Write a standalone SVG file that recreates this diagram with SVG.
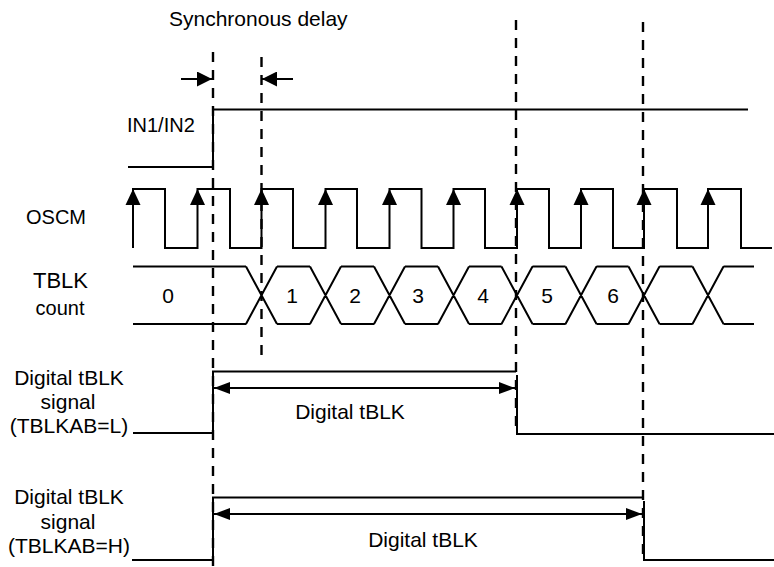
<svg xmlns="http://www.w3.org/2000/svg" xmlns:xlink="http://www.w3.org/1999/xlink" width="774" height="567" viewBox="0 0 774 567">
<style>
  text { font-family: "Liberation Sans", Arial, sans-serif; fill: #000; }
  .lbl { font-size: 20px; }
  .big { font-size: 21px; }
  .mid { text-anchor: middle; }
  .w { fill: none; stroke: #000; stroke-width: 2; }
  .dash { fill: none; stroke: #000; stroke-width: 2.4; stroke-dasharray: 10 8; }
  .arr { fill: none; stroke: #000; stroke-width: 2; marker-start: url(#ah); marker-end: url(#ah); }
</style>
<defs>
  <marker id="ah" viewBox="0 0 16 12" refX="16" refY="6" markerWidth="16" markerHeight="12" markerUnits="userSpaceOnUse" orient="auto-start-reverse">
    <path d="M0,0 L16,6 L0,12 Z" fill="#000"/>
  </marker>
  <marker id="ah2" viewBox="0 0 15 15" refX="15" refY="7.5" markerWidth="15" markerHeight="15" markerUnits="userSpaceOnUse" orient="auto">
    <path d="M0,0 L15,7.5 L0,15 Z" fill="#000"/>
  </marker>
  <path id="clk" d="M0,189 L-7.5,205 L7.5,205 Z" fill="#000"/>
</defs>
<rect width="774" height="567" fill="#fff"/>

<g id="labels">
  <text class="big" x="169" y="26">Synchronous delay</text>
  <text class="lbl" x="127" y="132">IN1/IN2</text>
  <text class="lbl" x="56" y="224" text-anchor="middle">OSCM</text>
  <text x="60.5" y="288" text-anchor="middle" font-size="22">TBLK</text>
  <text class="lbl" x="60" y="315" text-anchor="middle">count</text>
  <text class="big mid" x="69" y="385">Digital tBLK</text>
  <text class="big mid" x="68" y="409">signal</text>
  <text class="big mid" x="69" y="433">(TBLKAB=L)</text>
  <text class="big mid" x="69" y="504">Digital tBLK</text>
  <text class="big mid" x="68" y="529">signal</text>
  <text class="big mid" x="69" y="553">(TBLKAB=H)</text>
</g>

<g id="in-signal">
  <path class="w" d="M128,167 H213 V109.5 H748"/>
</g>

<g id="oscm">
  <path class="w" d="M133,248 V189 H165 V248 H197.5 V189 H230 V248 H261.5 V189 H293 V248 H325.5 V189 H357 V248 H389.5 V189 H421.5 V248 H453.5 V189 H485 V248 H517 V189 H549 V248 H581 V189 H613 V248 H644 V189 H677 V248 H708 V189 H741 V248 H772"/>
  <use xlink:href="#clk" href="#clk" x="133"/>
  <use xlink:href="#clk" href="#clk" x="197.5"/>
  <use xlink:href="#clk" href="#clk" x="261.5"/>
  <use xlink:href="#clk" href="#clk" x="325.5"/>
  <use xlink:href="#clk" href="#clk" x="389.5"/>
  <use xlink:href="#clk" href="#clk" x="453.5"/>
  <use xlink:href="#clk" href="#clk" x="517"/>
  <use xlink:href="#clk" href="#clk" x="581"/>
  <use xlink:href="#clk" href="#clk" x="644"/>
  <use xlink:href="#clk" href="#clk" x="708"/>
</g>

<g id="tblk-count">
  <path class="w" d="M133,266.5 H246 M277,266.5 H310 M341,266.5 H374 M405,266.5 H438 M469,266.5 H501.5 M532.5,266.5 H565.5 M596.5,266.5 H628.5 M659.5,266.5 H692.5 M723.5,266.5 H754
    M133,324 H246 M277,324 H310 M341,324 H374 M405,324 H438 M469,324 H501.5 M532.5,324 H565.5 M596.5,324 H628.5 M659.5,324 H692.5 M723.5,324 H754
    M246,266.5 L277,324 M246,324 L277,266.5
    M310,266.5 L341,324 M310,324 L341,266.5
    M374,266.5 L405,324 M374,324 L405,266.5
    M438,266.5 L469,324 M438,324 L469,266.5
    M501.5,266.5 L532.5,324 M501.5,324 L532.5,266.5
    M565.5,266.5 L596.5,324 M565.5,324 L596.5,266.5
    M628.5,266.5 L659.5,324 M628.5,324 L659.5,266.5
    M692.5,266.5 L723.5,324 M692.5,324 L723.5,266.5"/>
  <text class="big mid" x="168" y="303">0</text>
  <text class="big mid" x="292" y="303">1</text>
  <text class="big mid" x="355" y="303">2</text>
  <text class="big mid" x="418" y="303">3</text>
  <text class="big mid" x="483" y="303">4</text>
  <text class="big mid" x="547" y="303">5</text>
  <text class="big mid" x="613" y="303">6</text>
</g>

<g id="tblk-L">
  <path class="w" d="M133,433 H213 V371.5 H516"/>
  <path class="w" d="M517,375 V434 H774"/>
  <text class="big mid" x="350" y="419">Digital tBLK</text>
</g>

<g id="tblk-H">
  <path class="w" d="M132,560 H213 V497.5 H643"/>
  <path class="w" d="M644,501 V560 H774"/>
  <text class="big mid" x="423" y="547">Digital tBLK</text>
</g>

<g id="connectors">
  <line class="dash" x1="213" y1="52" x2="213" y2="567"/>
  <line class="dash" x1="261.5" y1="57" x2="261.5" y2="360"/>
  <line class="dash" x1="516" y1="20" x2="516" y2="434"/>
  <line class="dash" x1="643" y1="22" x2="643" y2="560"/>
  <line x1="181" y1="79" x2="212" y2="79" stroke="#000" stroke-width="2" marker-end="url(#ah2)"/>
  <line x1="293" y1="79" x2="262" y2="79" stroke="#000" stroke-width="2" marker-end="url(#ah2)"/>
  <line class="arr" x1="214" y1="388" x2="515" y2="388"/>
  <line class="arr" x1="214" y1="514" x2="642" y2="514"/>
</g>
</svg>
